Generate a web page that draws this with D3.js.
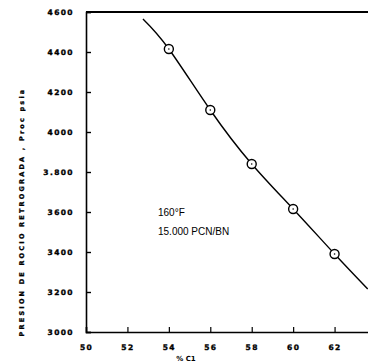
<!DOCTYPE html>
<html>
<head>
<meta charset="utf-8">
<script src="https://cdn.jsdelivr.net/npm/d3@7"></script>
<style>
  body { margin: 0; background: #fff; }
  svg { display: block; }
</style>
</head>
<body>
<div id="chart"></div>
<script>
// measured points (circles)
const pointX = [54, 56, 58, 60, 62];
const pointY = [4415, 4110, 3840, 3615, 3390];
// fitted curve
const curveX = [52.75, 54, 56, 58, 60, 62, 63.6];
const curveY = [4565, 4415, 4110, 3840, 3615, 3390, 3215];
const xTicks = [50, 52, 54, 56, 58, 60, 62, 64];
const yTicks = [3000, 3200, 3400, 3600, 3800, 4000, 4200, 4400, 4600];
const yTickLabels = ['3000', '3200', '3400', '3600', '3.800', '4000', '4200', '4400', '4600'];

const width = 368, height = 362;
const svg = d3.select('#chart').append('svg')
  .attr('width', width).attr('height', height);

const x = d3.scaleLinear().domain([50, 64]).range([86, 376]);
const y = d3.scaleLinear().domain([3000, 4600]).range([332, 12]);

// frame top
svg.append('line')
  .attr('x1', x(50)).attr('x2', x(64))
  .attr('y1', y(4600)).attr('y2', y(4600))
  .attr('stroke', '#000').attr('stroke-width', 2);

const tickStyle = sel => sel
  .style('font-family', '"DejaVu Sans", sans-serif')
  .style('font-weight', 'bold')
  .style('font-size', '7.5px')
  .style('letter-spacing', '1.4px')
  .attr('stroke', '#000')
  .attr('stroke-width', 0.35);

// Y axis, ticks pointing inward
const yAxis = svg.append('g')
  .attr('transform', `translate(${x(50)},0)`)
  .call(d3.axisRight(y).tickValues(yTicks).tickSize(5).tickFormat((d, i) => yTickLabels[i]));
yAxis.select('.domain').attr('stroke-width', 1.6);
yAxis.selectAll('.tick line').attr('stroke-width', 1.4);
yAxis.selectAll('text')
  .attr('x', -12).attr('text-anchor', 'end')
  .call(tickStyle);

// X axis, ticks pointing inward
const xAxis = svg.append('g')
  .attr('transform', `translate(0,${y(3000)})`)
  .call(d3.axisTop(x).tickValues(xTicks).tickSize(5));
xAxis.select('.domain').attr('stroke-width', 1.6);
xAxis.selectAll('.tick line').attr('stroke-width', 1.2);
xAxis.selectAll('text')
  .attr('y', 18).attr('dy', 0)
  .call(tickStyle);

// curve
const line = d3.line()
  .x((d, i) => x(curveX[i]))
  .y((d, i) => y(curveY[i]))
  .curve(d3.curveNatural);
svg.append('path')
  .datum(curveX)
  .attr('d', line)
  .attr('fill', 'none')
  .attr('stroke', '#000')
  .attr('stroke-width', 1.4);

// circles
svg.selectAll('circle.pt')
  .data(pointX)
  .enter().append('circle')
  .attr('class', 'pt')
  .attr('cx', d => x(d))
  .attr('cy', (d, i) => y(pointY[i]))
  .attr('r', 4.5)
  .attr('fill', '#fff')
  .attr('stroke', '#000')
  .attr('stroke-width', 1.4);
svg.selectAll('circle.dot')
  .data(pointX)
  .enter().append('circle')
  .attr('class', 'dot')
  .attr('cx', d => x(d))
  .attr('cy', (d, i) => y(pointY[i]))
  .attr('r', 0.8)
  .attr('fill', '#000');

// annotation
const note = svg.append('text')
  .style('font-family', '"Liberation Sans", Arial, sans-serif')
  .style('font-size', '10px');
note.append('tspan').attr('x', 158).attr('y', 216).text('160°F');
note.append('tspan').attr('x', 158).attr('y', 235).text('15.000 PCN/BN');

// y label
svg.append('text')
  .attr('transform', 'translate(24,212) rotate(-90)')
  .attr('text-anchor', 'middle')
  .style('font-family', '"DejaVu Sans", sans-serif')
  .style('font-weight', 'bold')
  .style('font-size', '6.5px')
  .style('letter-spacing', '2.2px')
  .attr('stroke', '#000')
  .attr('stroke-width', 0.3)
  .text('PRESION DE ROCIO RETROGRADA , Proc psia');

// x label (sits at the bottom edge)
svg.append('text')
  .attr('x', 186).attr('y', 361)
  .attr('text-anchor', 'middle')
  .style('font-family', '"DejaVu Sans", sans-serif')
  .style('font-weight', 'bold')
  .style('font-size', '7px')
  .text('% C1');
</script>
</body>
</html>
